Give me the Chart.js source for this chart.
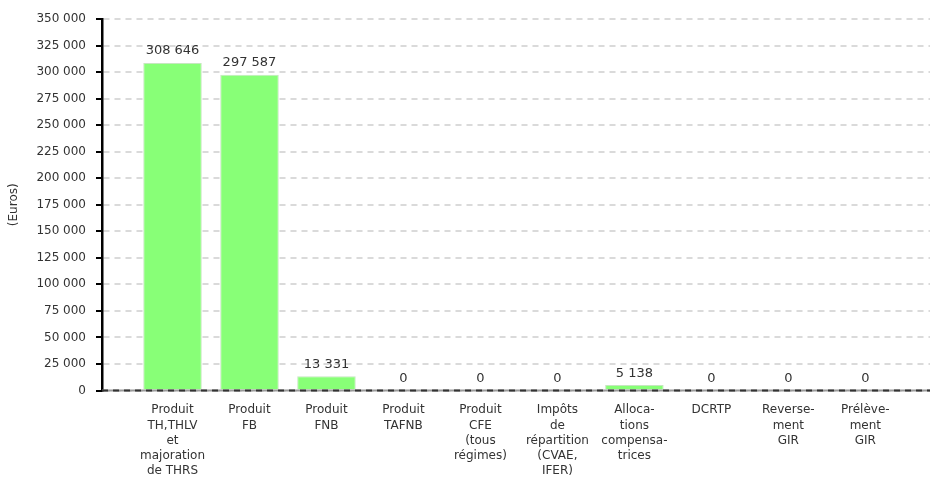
<!DOCTYPE html>
<html>
<head>
<meta charset="utf-8">
<script src="https://cdn.jsdelivr.net/npm/chart.js@4"></script>
<style>
    body { margin: 0; background: #fff; }
    #wrap { width: 931px; height: 477px; position: relative; }
</style>
</head>
<body>
<div id="wrap"><canvas id="budgetChart"></canvas></div>
<script>
// Chart data
const categories = [
    ['Produit', 'TH,THLV', 'et', 'majoration', 'de THRS'],
    ['Produit', 'FB'],
    ['Produit', 'FNB'],
    ['Produit', 'TAFNB'],
    ['Produit', 'CFE', '(tous', 'régimes)'],
    ['Impôts', 'de', 'répartition', '(CVAE,', 'IFER)'],
    ['Alloca-', 'tions', 'compensa-', 'trices'],
    ['DCRTP'],
    ['Reverse-', 'ment', 'GIR'],
    ['Prélève-', 'ment', 'GIR']
];
const amounts = [308646, 297587, 13331, 0, 0, 0, 5138, 0, 0, 0];
const yTicks = [0, 25000, 50000, 75000, 100000, 125000, 150000, 175000,
    200000, 225000, 250000, 275000, 300000, 325000, 350000];
const yTitle = '(Euros)';

// Utility: 308646 -> "308 646"
function formatAmount(value) {
    return String(value).replace(/\B(?=(\d{3})+(?!\d))/g, ' ');
}

// Value labels above bars + dark zero line
const valueLabels = {
    id: 'valueLabels',
    afterDatasetsDraw(chart) {
        const ctx = chart.ctx;
        const area = chart.chartArea;
        const y0 = chart.scales.y.getPixelForValue(0);

        ctx.save();
        ctx.lineWidth = 2;
        ctx.strokeStyle = '#9a9a9a';
        ctx.beginPath();
        ctx.moveTo(area.left, y0);
        ctx.lineTo(area.right, y0);
        ctx.stroke();
        ctx.setLineDash([6, 5]);
        ctx.strokeStyle = '#333';
        ctx.beginPath();
        ctx.moveTo(area.left, y0);
        ctx.lineTo(area.right, y0);
        ctx.stroke();
        ctx.restore();

        ctx.save();
        ctx.font = '13px "DejaVu Sans"';
        ctx.fillStyle = '#333';
        ctx.textAlign = 'center';
        ctx.textBaseline = 'alphabetic';
        chart.getDatasetMeta(0).data.forEach((bar, i) => {
            ctx.fillText(formatAmount(amounts[i]), bar.x, bar.y - 8.5);
        });
        ctx.restore();
    }
};

// Rotated axis title, centred on the plot area
const axisTitle = {
    id: 'axisTitle',
    afterDraw(chart) {
        const ctx = chart.ctx;
        const area = chart.chartArea;
        ctx.save();
        ctx.translate(14, (area.top + area.bottom) / 2);
        ctx.rotate(-Math.PI / 2);
        ctx.font = '12px "DejaVu Sans"';
        ctx.fillStyle = '#333';
        ctx.textAlign = 'center';
        ctx.textBaseline = 'middle';
        ctx.fillText(yTitle, 0, 0);
        ctx.restore();
    }
};

new Chart(document.getElementById('budgetChart'), {
    type: 'bar',
    data: {
        datasets: [{
            data: amounts.map((v, i) => ({ x: i, y: v })),
            backgroundColor: '#88ff77',
            borderColor: '#c6e6bf',
            borderWidth: 1,
            categoryPercentage: 1,
            barPercentage: 0.76
        }]
    },
    options: {
        responsive: true,
        maintainAspectRatio: false,
        animation: false,
        layout: { padding: { top: 19, right: 1, left: 0, bottom: 0 } },
        plugins: {
            legend: { display: false },
            tooltip: { enabled: false }
        },
        scales: {
            x: {
                type: 'linear',
                min: -0.916,
                max: 9.84,
                offset: false,
                grid: { display: false, drawTicks: false },
                border: { display: false },
                afterBuildTicks: scale => {
                    scale.ticks = categories.map((c, i) => ({ value: i }));
                },
                afterFit: scale => { scale.height = 86.5; },
                ticks: {
                    autoSkip: false,
                    maxRotation: 0,
                    padding: 12,
                    color: '#333',
                    font: { family: 'DejaVu Sans', size: 12, lineHeight: 1.275 },
                    callback: value => categories[value] || ''
                }
            },
            y: {
                min: 0,
                max: 350000,
                afterBuildTicks: scale => {
                    scale.ticks = yTicks.map(v => ({ value: v }));
                },
                afterFit: scale => { scale.width = 102; },
                grid: {
                    color: '#dadada',
                    lineWidth: 2,
                    tickLength: 6,
                    tickColor: '#000',
                    tickWidth: 2,
                    tickBorderDash: []
                },
                border: { display: true, color: '#000', width: 2.5, dash: [6, 5] },
                ticks: {
                    padding: 10,
                    color: '#333',
                    font: { family: 'DejaVu Sans', size: 12 },
                    callback: value => formatAmount(value)
                }
            }
        }
    },
    plugins: [valueLabels, axisTitle]
});
</script>
</body>
</html>
